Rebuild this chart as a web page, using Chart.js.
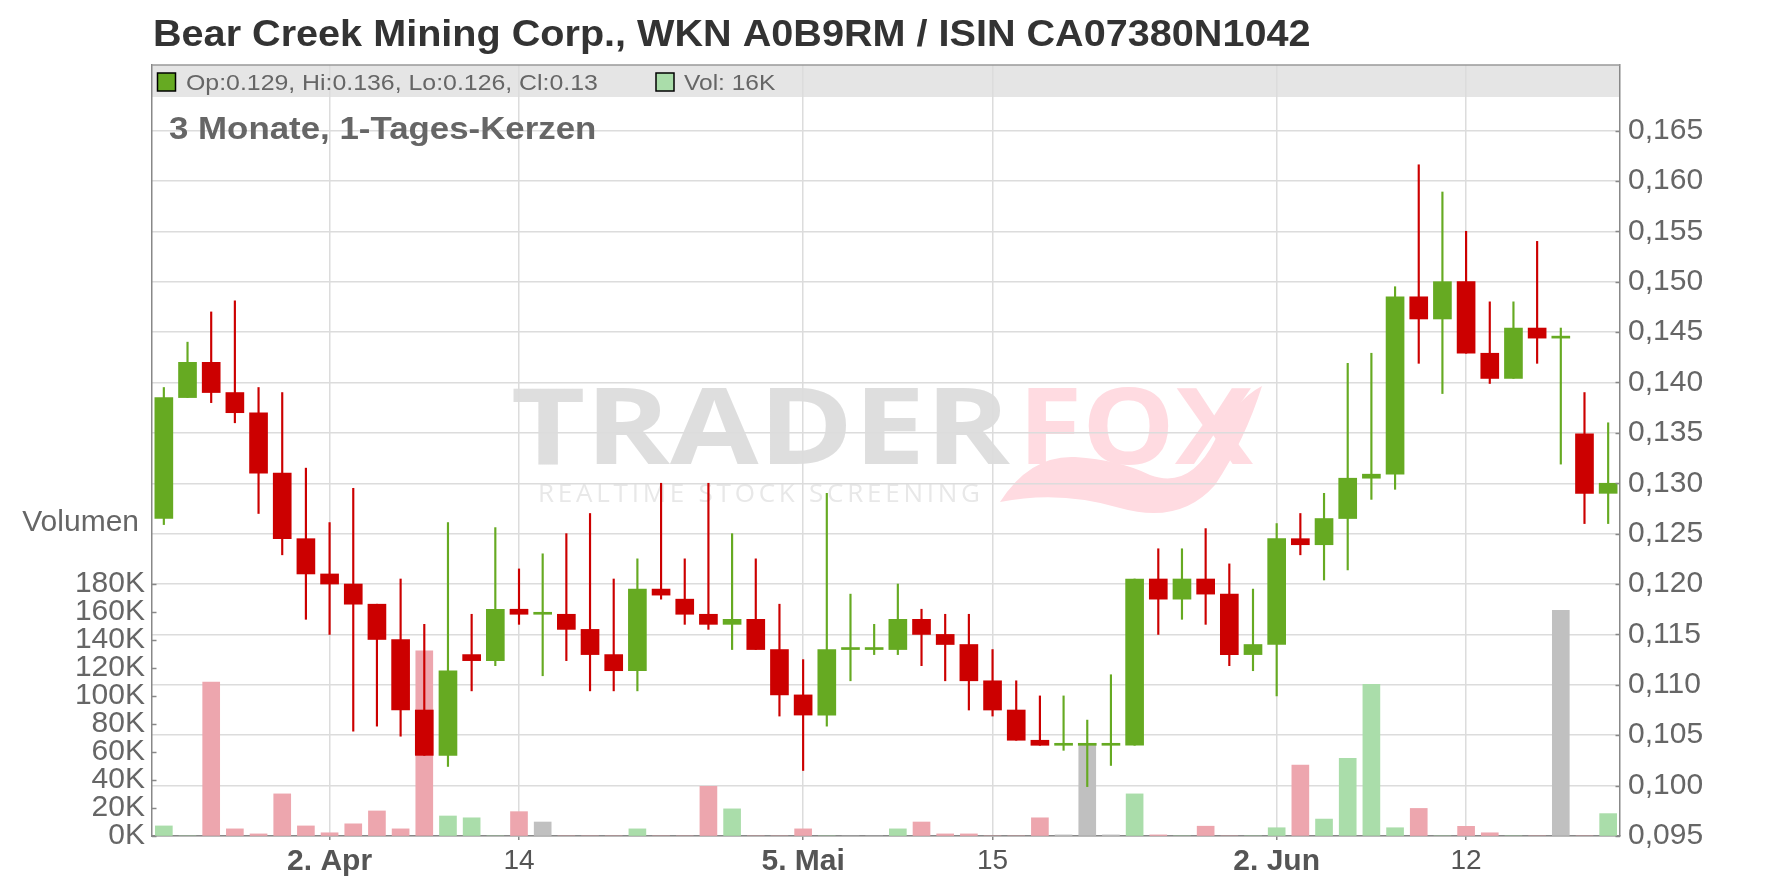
<!DOCTYPE html>
<html lang="de">
<head>
<meta charset="UTF-8">
<title>Bear Creek Mining Corp.</title>
<script src="https://cdn.jsdelivr.net/npm/chart.js"></script>
<style>
  html, body { margin: 0; padding: 0; background: #fff; }
  #wrap { width: 1776px; height: 888px; position: relative; }
</style>
</head>
<body>
<div id="wrap"><canvas id="chart"></canvas></div>
<script>
// trading days (Frankfurt), 24.03. - 20.06.
const dates = [
  '24.03.', '25.03.', '26.03.', '27.03.', '28.03.', '31.03.', '01.04.', '02.04.', '03.04.', '04.04.',
  '07.04.', '08.04.', '09.04.', '10.04.', '11.04.', '14.04.', '15.04.', '16.04.', '17.04.', '22.04.',
  '23.04.', '24.04.', '25.04.', '28.04.', '29.04.', '30.04.', '02.05.', '05.05.', '06.05.', '07.05.',
  '08.05.', '09.05.', '12.05.', '13.05.', '14.05.', '15.05.', '16.05.', '19.05.', '20.05.', '21.05.',
  '22.05.', '23.05.', '26.05.', '27.05.', '28.05.', '29.05.', '30.05.', '02.06.', '03.06.', '04.06.',
  '05.06.', '06.06.', '09.06.', '10.06.', '11.06.', '12.06.', '13.06.', '16.06.', '17.06.', '18.06.',
  '19.06.', '20.06.'
];
const opens = [
  .1265, .1385, .1420, .1390, .1370, .1310, .1245, .1210, .1200, .1180,
  .1145, .1075, .1030, .1130, .1124, .1175, .1170, .1170, .1155, .1130,
  .1114, .1195, .1185, .1170, .1160, .1165, .1135, .1090, .1070, .1135,
  .1135, .1135, .1165, .1150, .1140, .1104, .1075, .1045, .1040, .1040,
  .1040, .1040, .1205, .1185, .1205, .1190, .1130, .1140, .1245, .1239,
  .1265, .1305, .1309, .1485, .1463, .1500, .1429, .1404, .1454, .1444,
  .1349, .129
];
const highs = [
  .1395, .1440, .1470, .1481, .1395, .1390, .1315, .1261, .1295, .1180,
  .1205, .1160, .1261, .1170, .1256, .1215, .1230, .1250, .1270, .1205,
  .1225, .1300, .1225, .1300, .1250, .1225, .1180, .1125, .1290, .1190,
  .1160, .1200, .1175, .1170, .1170, .1135, .1104, .1089, .1089, .1065,
  .1110, .1205, .1235, .1235, .1255, .1220, .1195, .1260, .1270, .1290,
  .1419, .1429, .1495, .1616, .1589, .1550, .1480, .1480, .1540, .1454,
  .1390, .136
];
const lows = [
  .1259, .1385, .1380, .1360, .1270, .1229, .1165, .1150, .1054, .1059,
  .1049, .1030, .1019, .1094, .1119, .1160, .1109, .1124, .1094, .1094,
  .1094, .1185, .1160, .1155, .1135, .1135, .1069, .1015, .1059, .1104,
  .1130, .1130, .1119, .1104, .1075, .1069, .1045, .1040, .1035, .0999,
  .1020, .1040, .1150, .1165, .1160, .1119, .1114, .1089, .1229, .1204,
  .1214, .1284, .1294, .1419, .1389, .1429, .1399, .1404, .1419, .1319,
  .1260, .126
];
const closes = [
  .1385, .1420, .1390, .1370, .1310, .1245, .1210, .1200, .1180, .1145,
  .1075, .1030, .1114, .1124, .1175, .1170, .1170, .1155, .1130, .1114,
  .1195, .1189, .1170, .1160, .1165, .1135, .1090, .1070, .1135, .1135,
  .1135, .1165, .1150, .1140, .1104, .1075, .1045, .1040, .1040, .1040,
  .1040, .1205, .1185, .1205, .1190, .1130, .1140, .1245, .1239, .1265,
  .1305, .1309, .1485, .1463, .1500, .1429, .1404, .1454, .1444, .1444,
  .1290, .13
];
const volumes = [
  7200, 0, 110000, 5100, 1500, 30100, 7200, 2300, 8700, 17900,
  5100, 132300, 14300, 13000, 0, 17400, 10000, 0, 0, 0,
  5100, 0, 0, 35500, 19400, 0, 0, 5100, 0, 0,
  0, 5100, 10000, 1500, 1500, 0, 0, 13000, 800, 64900,
  800, 30100, 800, 0, 7000, 0, 0, 5900, 50600, 12100,
  55500, 108400, 5900, 19700, 0, 6900, 2300, 0, 0, 161200,
  0, 16000
];
const tickDates = ['02.04.', '14.04.', '05.05.', '15.05.', '02.06.', '12.06.'];
const tickTexts = ['2. Apr', '14', '5. Mai', '15', '2. Jun', '12'];
const tickBold  = [true, false, true, false, true, false];
const priceTicks = [0.095, 0.100, 0.105, 0.110, 0.115, 0.120, 0.125, 0.130, 0.135, 0.140, 0.145, 0.150, 0.155, 0.160, 0.165];
const volumeTicks = [0, 20000, 40000, 60000, 80000, 100000, 120000, 140000, 160000, 180000];

const titleText = 'Bear Creek Mining Corp., WKN A0B9RM / ISIN CA07380N1042';
const subtitleText = '3 Monate, 1-Tages-Kerzen';

const UP = '#66aa22', DOWN = '#cc0000';
const VOL_UP = '#aaddaa', VOL_DOWN = '#eda6ae', VOL_FLAT = '#c0c0c0';
const FONT = '"Liberation Sans", Arial, sans-serif';

const candleColors = opens.map((o, i) => closes[i] >= o ? UP : DOWN);
const volumeColors = closes.map((c, i) => {
  if (i === 0 || c > closes[i - 1]) return VOL_UP;
  if (c < closes[i - 1]) return VOL_DOWN;
  return VOL_FLAT;
});

// text in the original is a bit wider than plain Arial, so stretch it slightly
function wideText(ctx, text, x, y, sx) {
  ctx.save();
  ctx.translate(x, y);
  ctx.scale(sx, 1);
  ctx.fillText(text, 0, 0);
  ctx.restore();
}

function fitText(ctx, text, x, baseline, width) {
  const w = ctx.measureText(text).width;
  wideText(ctx, text, x, baseline, width / w);
}

function drawWatermark(ctx) {
  ctx.save();
  ctx.font = 'bold 106px "Open Sans", sans-serif';
  const g = ctx.createLinearGradient(0, 388, 0, 464);
  g.addColorStop(0, '#dedede');
  g.addColorStop(1, '#ededed');
  ctx.fillStyle = g;
  fitText(ctx, 'TRADER', 511, 464, 499);
  ctx.fillStyle = '#ffdbe1';
  fitText(ctx, 'FOX', 1018, 464, 235);
  // fox tail
  ctx.beginPath();
  ctx.moveTo(1000, 502);
  ctx.quadraticCurveTo(1030, 455, 1075, 457);
  ctx.quadraticCurveTo(1120, 460, 1150, 475);
  ctx.quadraticCurveTo(1190, 490, 1215, 440);
  ctx.quadraticCurveTo(1235, 400, 1262, 386);
  ctx.quadraticCurveTo(1245, 440, 1215, 485);
  ctx.quadraticCurveTo(1180, 525, 1120, 508);
  ctx.quadraticCurveTo(1060, 490, 1000, 502);
  ctx.fill();
  // slogan
  ctx.fillStyle = '#e8e8e8';
  ctx.font = '26px "Open Sans", sans-serif';
  const chars = 'REALTIME STOCK SCREENING'.split('');
  const total = chars.reduce((w, ch) => w + ctx.measureText(ch).width, 0);
  const gap = (442 - total) / (chars.length - 1);
  let x = 538;
  chars.forEach(ch => { ctx.fillText(ch, x, 502); x += ctx.measureText(ch).width + gap; });
  ctx.restore();
}

const decor = {
  id: 'decor',
  beforeDraw(chart) {
    const { ctx, chartArea: a } = chart;
    ctx.save();
    ctx.fillStyle = '#e5e5e5';
    ctx.fillRect(a.left, a.top, a.right - a.left, 32);
    drawWatermark(ctx);
    ctx.restore();
  },
  afterDraw(chart) {
    const { ctx, chartArea: a } = chart;
    const last = opens.length - 1;
    ctx.save();
    ctx.strokeStyle = '#999';
    ctx.lineWidth = 1.5;
    ctx.beginPath(); ctx.moveTo(a.left, a.top); ctx.lineTo(a.right, a.top); ctx.stroke();

    // inward ticks on both value axes
    ctx.strokeStyle = '#888';
    chart.scales.y.ticks.forEach(t => {
      const py = Math.round(chart.scales.y.getPixelForValue(t.value)) + 0.5;
      ctx.beginPath(); ctx.moveTo(a.right - 4.5, py); ctx.lineTo(a.right, py); ctx.stroke();
    });
    chart.scales.yv.ticks.forEach(t => {
      const py = Math.round(chart.scales.yv.getPixelForValue(t.value)) + 0.5;
      ctx.beginPath(); ctx.moveTo(a.left, py); ctx.lineTo(a.left + 4.5, py); ctx.stroke();
    });

    ctx.textBaseline = 'alphabetic';
    ctx.textAlign = 'left';
    ctx.fillStyle = '#333';
    ctx.font = 'bold 36px ' + FONT;
    wideText(ctx, titleText, 153, 46, 1.1);

    // legend in the header band
    ctx.lineWidth = 1.5;
    ctx.strokeStyle = '#000';
    ctx.fillStyle = candleColors[last];
    ctx.fillRect(157.5, 73, 18, 18); ctx.strokeRect(157.5, 73, 18, 18);
    ctx.fillStyle = volumeColors[last];
    ctx.fillRect(656, 73, 18, 18); ctx.strokeRect(656, 73, 18, 18);
    ctx.fillStyle = '#666';
    ctx.font = '22.3px ' + FONT;
    wideText(ctx, 'Op:' + opens[last] + ', Hi:' + highs[last] + ', Lo:' + lows[last] + ', Cl:' + closes[last], 186, 90, 1.115);
    wideText(ctx, 'Vol: ' + Math.round(volumes[last] / 1000) + 'K', 684, 90, 1.1);

    ctx.font = 'bold 31.7px ' + FONT;
    wideText(ctx, subtitleText, 169, 139, 1.1);

    ctx.font = '30px ' + FONT;
    ctx.textAlign = 'right';
    ctx.fillText('Volumen', 139, 531);
    ctx.restore();
  }
};

new Chart(document.getElementById('chart'), {
  type: 'bar',
  data: {
    labels: dates,
    datasets: [
      {
        label: 'Körper',
        data: opens.map((o, i) => [o, closes[i]]),
        backgroundColor: candleColors,
        barThickness: 18,
        minBarLength: 2,
        grouped: false,
        yAxisID: 'y',
        order: 1
      },
      {
        label: 'Docht',
        data: lows.map((l, i) => [l, highs[i]]),
        backgroundColor: candleColors,
        barThickness: 1.5,
        grouped: false,
        yAxisID: 'y',
        order: 2
      },
      {
        label: 'Volumen',
        data: volumes,
        backgroundColor: volumeColors,
        barThickness: 17,
        grouped: false,
        yAxisID: 'yv',
        order: 3
      }
    ]
  },
  options: {
    responsive: true,
    maintainAspectRatio: false,
    animation: false,
    layout: { padding: { top: 65, left: 0, right: 0, bottom: 0 } },
    plugins: { legend: { display: false }, tooltip: { enabled: false } },
    scales: {
      x: {
        type: 'category',
        offset: true,
        afterBuildTicks(scale) {
          scale.ticks = tickDates.map(d => ({ value: dates.indexOf(d) }));
        },
        afterFit(scale) { scale.height = 52; },
        grid: { offset: false, color: '#dcdcdc', lineWidth: 1.5, drawTicks: true, tickLength: 4, tickColor: '#888' },
        border: { color: '#888', width: 1.5 },
        ticks: {
          autoSkip: false,
          maxRotation: 0,
          padding: 4,
          color: '#555',
          font: ctx => ({ family: FONT, size: tickBold[ctx.index] ? 30 : 28, weight: tickBold[ctx.index] ? 'bold' : 'normal' }),
          callback: (value, index) => tickTexts[index]
        }
      },
      y: {
        position: 'right',
        min: 0.095,
        max: 0.1715,
        afterBuildTicks(scale) { scale.ticks = priceTicks.map(v => ({ value: v })); },
        afterFit(scale) { scale.width = 156; },
        grid: { color: '#dcdcdc', lineWidth: 1.5, drawTicks: false },
        border: { color: '#888', width: 1.5 },
        ticks: {
          padding: 8,
          color: '#666',
          font: { family: FONT, size: 30 },
          callback: v => v.toFixed(3).replace('.', ',')
        }
      },
      yv: {
        position: 'left',
        min: 0,
        max: 551000,
        afterBuildTicks(scale) { scale.ticks = volumeTicks.map(v => ({ value: v })); },
        afterFit(scale) { scale.width = 152; },
        grid: { drawOnChartArea: false, drawTicks: false },
        border: { color: '#888', width: 1.5 },
        ticks: {
          padding: 7,
          color: '#666',
          font: { family: FONT, size: 30 },
          callback: v => (v / 1000) + 'K'
        }
      }
    }
  },
  plugins: [decor]
});
</script>
</body>
</html>
